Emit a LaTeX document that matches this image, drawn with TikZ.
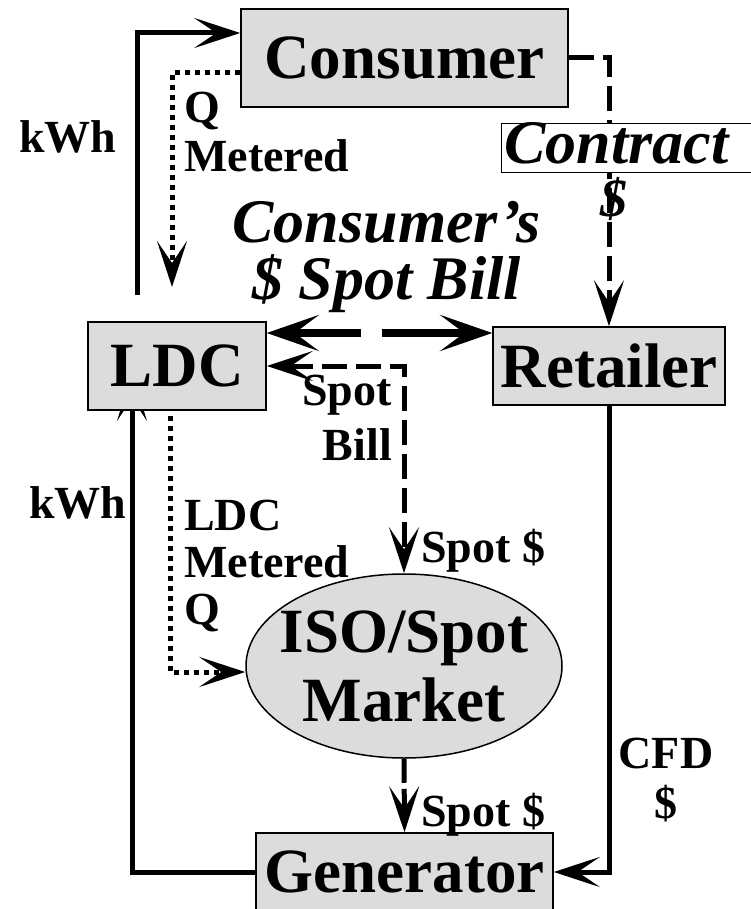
\documentclass[tikz,border=0pt]{standalone}
\usepackage{fontspec}
\setmainfont{Liberation Serif}
\usetikzlibrary{arrows.meta,shapes.geometric,calc}
\definecolor{boxgray}{RGB}{220,220,220}
\pgfdeclarelayer{background}
\pgfsetlayers{background,main}
\begin{document}
\begin{tikzpicture}[x=1pt,y=-1pt,
  bigfont/.style={font=\fontsize{63}{69}\selectfont\bfseries},
  smallfont/.style={font=\fontsize{46}{49}\selectfont\bfseries, inner sep=0pt},
  italfont/.style={font=\fontsize{62}{55}\selectfont\bfseries\itshape, inner sep=0pt},
  boxnode/.style={draw, line width=1.5pt, fill=boxgray, inner sep=0pt, bigfont},
  myarrow/.style={-{Stealth[length=46pt,width=30pt,inset=22pt]}},
  myarrowboth/.style={{Stealth[length=46pt,width=30pt,inset=22pt]}-{Stealth[length=46pt,width=30pt,inset=22pt]}},
  flowline/.style={line width=5pt},
  dotline/.style={line width=5pt, dash pattern=on 5pt off 5pt},
  dashline/.style={line width=5pt, dash pattern=on 25pt off 9pt},
]
\useasboundingbox (0,0) rectangle (750,909);

% nodes
\node[boxnode, minimum width=327pt, minimum height=98pt] (consumer) at (404.5,58) {Consumer};
\node[boxnode, minimum width=178pt, minimum height=88pt] (ldc) at (177,366) {LDC};
\node[boxnode, minimum width=232pt, minimum height=78pt] (retailer) at (609,366) {Retailer};
\node[boxnode, minimum width=297pt, minimum height=78pt] (generator) at (404.5,872) {Generator};
\node[boxnode, ellipse, inner sep=-20pt, minimum width=316pt, minimum height=184pt, align=center] (iso) at (404,666) {ISO/Spot\\Market};

\node[draw, line width=1pt, fill=white, anchor=west, italfont, inner xsep=3pt, inner ysep=0pt,
      text width=250pt, align=left, minimum height=49pt, text height=40pt, text depth=9pt] (contract) at (501,148.5) {Contract};
\node[italfont, font=\fontsize{54}{55}\selectfont\bfseries\itshape] (cdollar) at (614,199) {\$};
\node[italfont, anchor=base] (billA) at (386.5,243) {Consumer’s};
\node[italfont, anchor=base] (billB) at (386.5,299) {\$ Spot Bill};

\node[smallfont] (kwhtop) at (68,136.5) {kWh};
\node[smallfont] (kwhbot) at (78,502.5) {kWh};
\node[smallfont, align=left, anchor=north west] (qmet) at (184,92) {Q\\Metered};
\node[smallfont, align=left, anchor=north west, font=\fontsize{46}{47}\selectfont\bfseries] (ldcq) at (184,500) {LDC\\Metered\\Q};
\node[smallfont, align=right, anchor=north east, font=\fontsize{46}{55}\selectfont\bfseries] (spotbill) at (392,375) {Spot\\Bill};
\node[smallfont, anchor=base west] (spotA) at (421,562) {Spot \$};
\node[smallfont, anchor=base west] (spotB) at (421,826) {Spot \$};
\node[smallfont, align=center, anchor=north, font=\fontsize{46}{50}\selectfont\bfseries] (cfd) at (666,738) {CFD\\\$};

\coordinate (kwhA) at (137,295);
\coordinate (qA) at (172,287);

% connectors
\begin{pgfonlayer}{background}
\draw[flowline, myarrow] (kwhA) |- ([yshift=25pt]consumer.west);
\draw[dotline, myarrow] ([yshift=-15pt]consumer.west) -| (qA);
\draw[dashline, myarrow] (consumer.east) -| (retailer.north);
\draw[line width=8pt, dash pattern=on 70pt off 21pt on 200pt off 0pt,
      {Stealth[length=52pt,width=36pt,inset=24pt]}-{Stealth[length=52pt,width=36pt,inset=24pt]}]
      ([yshift=33pt]ldc.east) -- ([yshift=33pt]retailer.west);
\draw[dashline, myarrowboth] (ldc.east) -| (iso.north);
\draw[flowline, myarrow] (retailer.south) |- (generator.east);
\draw[flowline, myarrow] (generator.west) -| ([xshift=-45pt,yshift=36pt]ldc.south);
\draw[dotline, myarrow] ([xshift=-7pt,yshift=-5pt]ldc.south) |- ([yshift=-6pt]iso.west);
\draw[dashline, dash pattern=on 24pt off 6pt, myarrow] (iso.south) -- (generator.north);
\end{pgfonlayer}
\end{tikzpicture}
\end{document}
